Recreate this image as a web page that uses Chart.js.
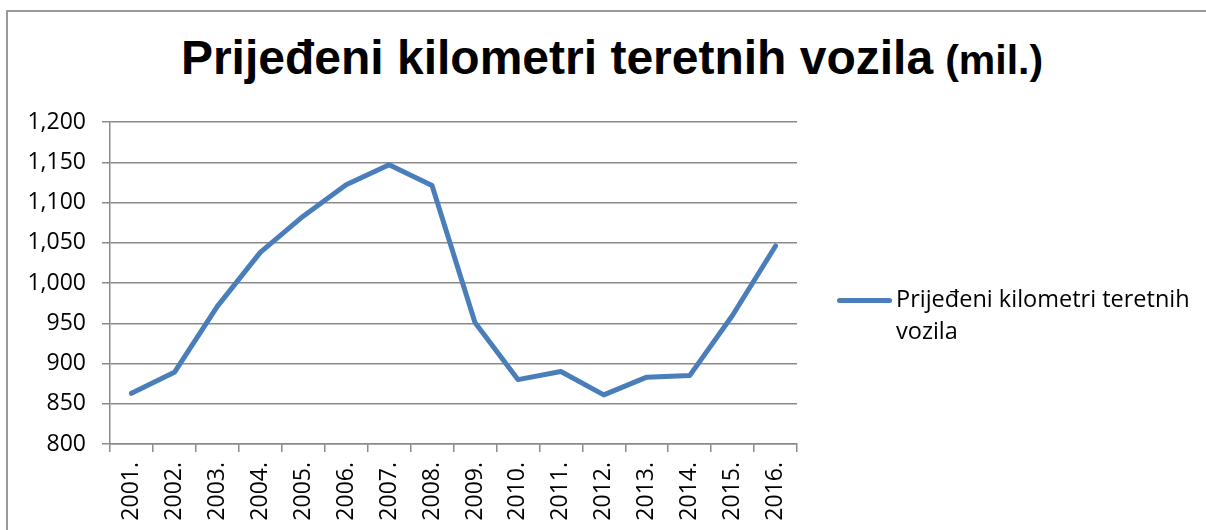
<!DOCTYPE html>
<html>
<head>
<meta charset="utf-8">
<script src="https://cdn.jsdelivr.net/npm/chart.js@4.4.0/dist/chart.umd.min.js"></script>
<style>
  html, body { margin: 0; padding: 0; background: #fff; overflow: hidden; }
  #wrap { position: relative; width: 1206px; height: 530px; }
  #frame { position: absolute; left: 6px; top: 10px; width: 1300px; height: 600px; border: 2px solid #9a9a9a; box-sizing: border-box; }
  #title { position: absolute; left: 18px; top: 34px; width: 1188px; text-align: center; font-family: "Liberation Sans", Arial, sans-serif; font-weight: bold; line-height: 1; color: #000; white-space: nowrap; }
  #title .main { font-size: 48px; }
  #title .unit { font-size: 41px; margin-left: 12px; }
  #legend { position: absolute; left: 837px; top: 282px; }
  #legend .swatch { position: absolute; left: 0; top: 16px; width: 55px; height: 5px; border-radius: 3px; }
  #legend .text { position: absolute; left: 59px; top: 0; width: 330px; font-family: "Open Sans", sans-serif; font-size: 23.5px; line-height: 32px; color: #000; }
  #myChart { position: absolute; left: 0; top: 0; }
</style>
</head>
<body>
<div id="wrap">
  <div id="frame"></div>
  <div id="title"><span class="main">Prijeđeni kilometri teretnih vozila</span><span class="unit">(mil.)</span></div>
  <canvas id="myChart" width="1206" height="530"></canvas>
  <div id="legend"></div>
</div>
<script>
// godine (x os)
const years = ['2001.', '2002.', '2003.', '2004.', '2005.', '2006.', '2007.', '2008.',
               '2009.', '2010.', '2011.', '2012.', '2013.', '2014.', '2015.', '2016.'];
// prijeđeni kilometri, mil.
const kilometri = [863, 889, 971, 1038, 1083, 1122, 1147, 1121,
                   951, 880, 890, 861, 883, 885, 960, 1046];
const seriesLabel = 'Prijeđeni kilometri teretnih vozila';
const yMin = 800;
const yMax = 1200;
const yStep = 50;

const lineColor = '#4a7ebb';
const gridColor = '#8a8a8a';
const tickFont = { family: '"Open Sans", sans-serif', size: 23 };

const ctx = document.getElementById('myChart').getContext('2d');
const myChart = new Chart(ctx, {
    type: 'line',
    data: {
        labels: years,
        datasets: [{
            label: seriesLabel,
            data: kilometri,
            borderColor: lineColor,
            backgroundColor: lineColor,
            borderWidth: 5,
            pointRadius: 0,
            pointHoverRadius: 0,
            tension: 0,
            borderCapStyle: 'round',
            borderJoinStyle: 'round',
            fill: false
        }]
    },
    options: {
        responsive: false,
        animation: false,
        layout: {
            padding: { top: 122, right: 409, bottom: 0, left: 0 }
        },
        plugins: {
            legend: { display: false },
            title: { display: false },
            tooltip: { enabled: false }
        },
        scales: {
            x: {
                offset: true,
                grid: {
                    offset: true,
                    drawOnChartArea: false,
                    drawTicks: true,
                    tickLength: 8,
                    color: gridColor,
                    lineWidth: 1.5
                },
                border: { color: gridColor, width: 1.5 },
                ticks: {
                    font: tickFont,
                    color: '#000',
                    minRotation: 90,
                    maxRotation: 90,
                    autoSkip: false,
                    padding: 10
                },
                afterFit: function(scale) { scale.height = 86; }
            },
            y: {
                min: yMin,
                max: yMax,
                grid: {
                    color: gridColor,
                    lineWidth: 1.5,
                    tickLength: 8
                },
                border: { color: gridColor, width: 1.5 },
                ticks: {
                    stepSize: yStep,
                    font: tickFont,
                    color: '#000',
                    padding: 16,
                    callback: function(v) { return v.toLocaleString('en-US'); }
                },
                afterFit: function(scale) { scale.width = 110; }
            }
        }
    }
});

// legenda desno, tekst se prelama u dva reda
const legend = document.getElementById('legend');
myChart.data.datasets.forEach(function(ds) {
    legend.innerHTML += '<div class="swatch" style="background:' + ds.borderColor + '"></div>' +
                        '<div class="text">' + ds.label + '</div>';
});
</script>
</body>
</html>
